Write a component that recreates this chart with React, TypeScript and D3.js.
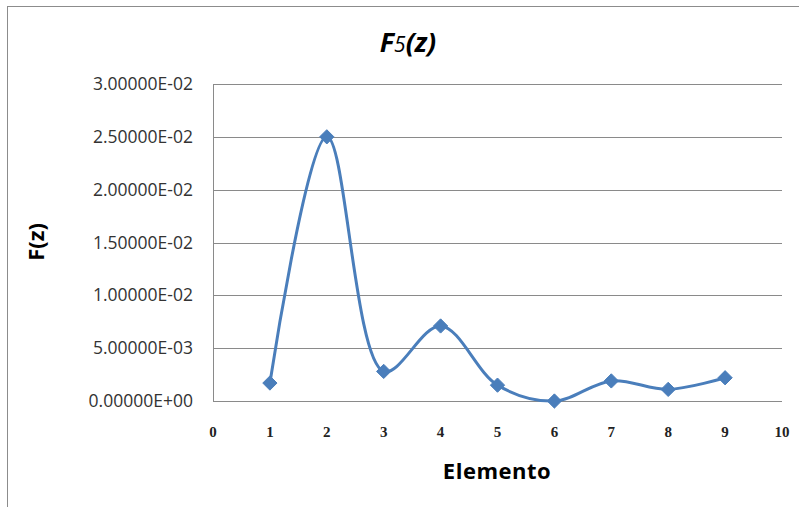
import React, { useRef, useEffect } from "react";
import * as d3 from "d3";

const elementos = [1, 2, 3, 4, 5, 6, 7, 8, 9];
const fz = [0.0017, 0.025, 0.0028, 0.0071, 0.0015, 0.0, 0.0019, 0.0011, 0.0022];
const yTicks = [0, 0.005, 0.01, 0.015, 0.02, 0.025, 0.03];
const xTicks = [0, 1, 2, 3, 4, 5, 6, 7, 8, 9, 10];

const W = 799;
const H = 507;
const margin = { top: 84, right: 17, bottom: 106, left: 213 };

const fmtSci = (v: number) => {
  if (v === 0) return "0.00000E+00";
  const exp = Math.floor(Math.log10(Math.abs(v)));
  const mant = v / Math.pow(10, exp);
  const sign = exp < 0 ? "-" : "+";
  return `${mant.toFixed(5)}E${sign}${String(Math.abs(exp)).padStart(2, "0")}`;
};

const App = () => {
  const svgRef = useRef<SVGSVGElement>(null);

  useEffect(() => {
    const svg = d3.select(svgRef.current);
    svg.selectAll("*").remove();

    const x = d3.scaleLinear().domain([0, 10]).range([margin.left, W - margin.right]);
    const y = d3.scaleLinear().domain([0, 0.03]).range([H - margin.bottom, margin.top]);

    // outer frame
    svg
      .append("rect")
      .attr("x", 7.5)
      .attr("y", 6.5)
      .attr("width", W)
      .attr("height", H)
      .attr("fill", "white")
      .attr("stroke", "#8c8c8c");

    // gridlines
    svg
      .append("g")
      .selectAll("line")
      .data(yTicks)
      .join("line")
      .attr("x1", x(0))
      .attr("x2", x(10))
      .attr("y1", (d) => Math.round(y(d)) + 0.5)
      .attr("y2", (d) => Math.round(y(d)) + 0.5)
      .attr("stroke", "#8a8a8a")
      .attr("stroke-width", 1);

    // y axis line
    svg
      .append("line")
      .attr("x1", x(0) + 0.5)
      .attr("x2", x(0) + 0.5)
      .attr("y1", y(0.03))
      .attr("y2", y(0))
      .attr("stroke", "#8a8a8a");

    // y tick labels
    svg
      .append("g")
      .selectAll("text")
      .data(yTicks)
      .join("text")
      .attr("x", 193)
      .attr("y", (d) => y(d) + 6)
      .attr("text-anchor", "end")
      .attr("font-family", "'Open Sans', sans-serif")
      .attr("font-size", 17.5)
      .attr("fill", "#333")
      .text((d) => fmtSci(d));

    // x tick labels
    svg
      .append("g")
      .selectAll("text")
      .data(xTicks)
      .join("text")
      .attr("x", (d) => x(d))
      .attr("y", 437)
      .attr("text-anchor", "middle")
      .attr("font-family", "'Liberation Serif', serif")
      .attr("font-weight", "bold")
      .attr("font-size", 15)
      .attr("fill", "#222")
      .text((d) => String(d));

    // line
    const line = d3
      .line<number>()
      .x((d, i) => x(elementos[i]))
      .y((d) => y(d))
      .curve(d3.curveCatmullRom.alpha(0.5));

    svg
      .append("path")
      .datum(fz)
      .attr("d", line)
      .attr("fill", "none")
      .attr("stroke", "#4a7ebb")
      .attr("stroke-width", 3);

    // diamond markers
    const diamond = d3.symbol().type(d3.symbolDiamond2).size(130);
    svg
      .append("g")
      .selectAll("path")
      .data(fz)
      .join("path")
      .attr("d", diamond)
      .attr("transform", (d, i) => `translate(${x(elementos[i])},${y(d)})`)
      .attr("fill", "#4a7ebb")
      .attr("stroke", "#4a7ebb");

    // title
    const title = svg
      .append("text")
      .attr("x", 408)
      .attr("y", 52)
      .attr("text-anchor", "middle")
      .attr("font-family", "'Open Sans', sans-serif")
      .attr("font-style", "italic")
      .attr("font-weight", "bold")
      .attr("font-size", 27)
      .attr("fill", "#000");
    title.append("tspan").text("F");
    title.append("tspan").attr("font-size", 21).attr("font-weight", "normal").text("5");
    title.append("tspan").text("(z)");

    // axis titles
    svg
      .append("text")
      .attr("transform", `translate(${44},${242}) rotate(-90)`)
      .attr("text-anchor", "middle")
      .attr("font-family", "'Open Sans', sans-serif")
      .attr("font-weight", "bold")
      .attr("font-size", 22)
      .attr("fill", "#000")
      .text("F(z)");

    svg
      .append("text")
      .attr("x", 497)
      .attr("y", 479)
      .attr("text-anchor", "middle")
      .attr("font-family", "'Open Sans', sans-serif")
      .attr("font-weight", "bold")
      .attr("font-size", 22)
      .attr("letter-spacing", 0.5)
      .attr("fill", "#000")
      .text("Elemento");
  }, []);

  return (
    <div style={{ position: "absolute", left: 0, top: 0 }}>
      <svg ref={svgRef} width={W} height={H} style={{ display: "block" }} />
    </div>
  );
};

export default App;
